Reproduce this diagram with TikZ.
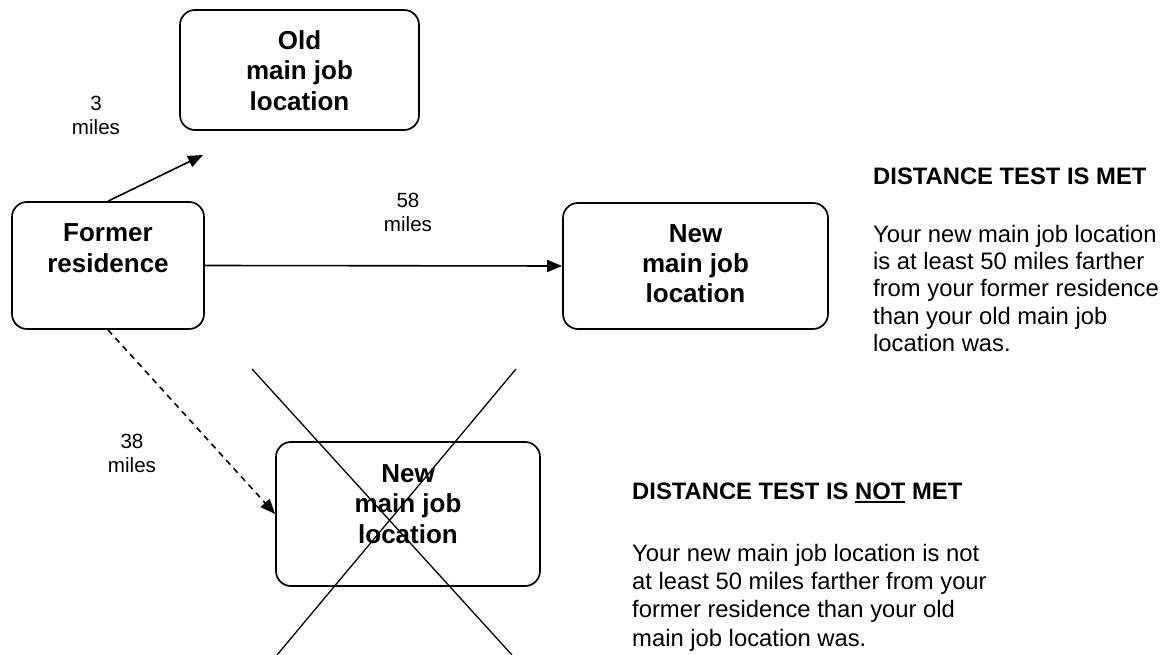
\documentclass[tikz,border=0pt]{standalone}
\usepackage{fontspec}
\setmainfont{Liberation Sans}
\usetikzlibrary{arrows.meta}
\newcommand{\thickul}[1]{{\setbox0\hbox{#1}\rlap{\rule[-3.5pt]{\wd0}{1.8pt}}\box0}}
\begin{document}
\begin{tikzpicture}[x=1pt,y=-1pt,
  boxshape/.style={draw,line width=1.7pt,rounded corners=15pt,inner sep=0pt},
  boxtext/.style={font=\fontsize{26}{30.5}\selectfont\bfseries,align=center,inner sep=0pt,anchor=base},
  lbl/.style={font=\fontsize{20.6}{24}\selectfont,align=center,inner sep=0pt,anchor=base},
  head/.style={font=\fontsize{23.8}{27.8}\selectfont\bfseries,inner sep=0pt,anchor=base west},
  para/.style={align=left,inner sep=0pt,anchor=base west},
  conn/.style={line width=1.6pt,-{Triangle[length=15pt,width=12pt]}},
  crossline/.style={line width=1.3pt}]
\useasboundingbox (0,0) rectangle (1163,655);
% boxes
\node[boxshape,minimum width=239pt,minimum height=120pt] (old) at (299.5,70) {};
\node[boxshape,minimum width=192pt,minimum height=127pt] (former) at (108,265.5) {};
\node[boxshape,minimum width=265pt,minimum height=126pt] (newA) at (695.5,266) {};
\node[boxshape,minimum width=264pt,minimum height=144pt] (newB) at (408,514) {};
% box texts (anchor = baseline of last line)
\node[boxtext] (oldt) at (299.5,110.5) {Old\\main job\\location};
\node[boxtext] (formert) at (108,272.5) {Former\\residence};
\node[boxtext] (newAt) at (695.5,303) {New\\main job\\location};
\node[boxtext] (newBt) at (408,543) {New\\main job\\location};
% connectors
\coordinate (oldtip) at (203,155);
\draw[conn] (former.north) -- (oldtip);
\draw[conn] (former.east) -- (newA.west);
\draw[conn,dash pattern=on 6pt off 5pt] (former.south) -- (newB.west);
% labels
\node[lbl] (l3) at (96,135) {3\\miles};
\node[lbl] (l58) at (408,232) {58\\miles};
\node[lbl] (l38) at (132,472) {38\\miles};
% cross
\draw[crossline] (252,369) -- (512,655);
\draw[crossline] (516,369) -- (277,655);
% right texts
\node[head] (h1) at (873,185) {DISTANCE TEST IS MET};
\node[para,font=\fontsize{23.8}{27.5}\selectfont] (p1) at (873,352) {Your new main job location\\is at least 50 miles farther\\from your former residence\\than your old main job\\location was.};
\node[head] (h2) at (632,499) {DISTANCE TEST IS \thickul{NOT} MET};
\node[para,font=\fontsize{23.8}{28.3}\selectfont] (p2) at (632,646) {Your new main job location is not\\at least 50 miles farther from your\\former residence than your old\\main job location was.};
\end{tikzpicture}
\end{document}
